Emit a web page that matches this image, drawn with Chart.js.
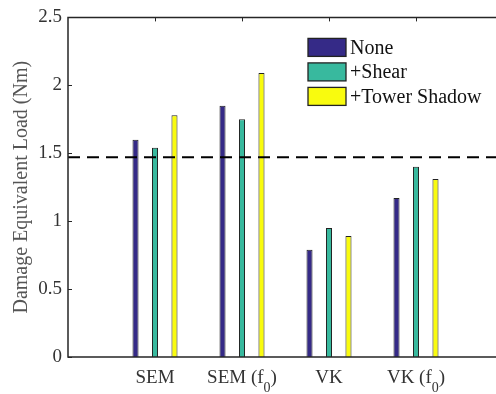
<!DOCTYPE html>
<html>
<head>
<meta charset="utf-8">
<title>Damage Equivalent Load</title>
<style>
  body { margin: 0; background: #fff; overflow: hidden; }
  #wrap { width: 496px; height: 394px; overflow: hidden; }
</style>
</head>
<body>
<div id="wrap"><canvas id="del" width="504" height="394"></canvas></div>
<script src="https://cdn.jsdelivr.net/npm/chart.js@4/dist/chart.umd.min.js"></script>
<script>
// "_" marks a subscript digit in a category name
var categories = ['SEM', 'SEM (f_0)', 'VK', 'VK (f_0)'];
var loadNone  = [1.60, 1.85, 0.79, 1.17];
var loadShear = [1.54, 1.75, 0.95, 1.40];
var loadTower = [1.78, 2.09, 0.89, 1.31];
var seriesNames  = ['None', '+Shear', '+Tower Shadow'];
var seriesColors = ['#352a87', '#38b99e', '#f9fb0e'];
var yTicks = [0, 0.5, 1, 1.5, 2, 2.5];
var baseLoad = 1.47;

var FONT = 'Liberation Serif, Times New Roman, serif';
var AXIS = '#262626';
var TEXT = '#333';

// empty slots at both ends so the groups sit at 1..4 on a 0..5 axis
function pad(a) { return [null].concat(a, [null]); }
var labels = pad(categories).map(function (c) { return c || ''; });

function barSet(i, values) {
  return {
    type: 'bar',
    label: seriesNames[i],
    data: pad(values),
    backgroundColor: seriesColors[i],
    borderColor: '#222',
    borderWidth: 1,
    categoryPercentage: 0.672,
    barPercentage: 0.31,
    order: 1
  };
}

// axes box with inward ticks
var framePlugin = {
  id: 'frame',
  afterDraw: function (chart) {
    var a = chart.chartArea, ctx = chart.ctx;
    var xs = chart.scales.x, ys = chart.scales.y;
    ctx.save();
    ctx.strokeStyle = AXIS;
    ctx.lineWidth = 1.5;
    ctx.beginPath();
    ctx.moveTo(a.right, a.top);
    ctx.lineTo(a.left, a.top);
    ctx.lineTo(a.left, a.bottom);
    ctx.lineTo(a.right, a.bottom);
    ctx.stroke();
    ctx.lineWidth = 1;
    ctx.beginPath();
    yTicks.forEach(function (v) {
      var p = Math.round(ys.getPixelForValue(v)) + 0.5;
      ctx.moveTo(a.left, p);
      ctx.lineTo(a.left + 4, p);
    });
    for (var i = 1; i <= categories.length; i++) {
      var px = Math.round(xs.getPixelForValue(i)) + 0.5;
      ctx.moveTo(px, a.top);
      ctx.lineTo(px, a.top + 4);
    }
    ctx.stroke();
    ctx.restore();
  }
};

// category names, with a lowered small digit after "_"
var xLabelPlugin = {
  id: 'xlabels',
  afterDraw: function (chart) {
    var ctx = chart.ctx, xs = chart.scales.x;
    var base = chart.chartArea.bottom + 26;
    var big = '19px ' + FONT, small = '14px ' + FONT;
    ctx.save();
    ctx.fillStyle = TEXT;
    ctx.textAlign = 'left';
    ctx.textBaseline = 'alphabetic';
    chart.data.labels.forEach(function (lab, i) {
      if (!lab) return;
      var px = xs.getPixelForValue(i);
      var parts = lab.split('_');
      var head = parts[0];
      var sub = parts.length > 1 ? parts[1].charAt(0) : '';
      var tail = parts.length > 1 ? parts[1].slice(1) : '';
      ctx.font = big;
      var w1 = ctx.measureText(head).width, w3 = ctx.measureText(tail).width;
      ctx.font = small;
      var w2 = ctx.measureText(sub).width;
      var x0 = px - (w1 + w2 + w3) / 2;
      ctx.font = big;
      ctx.fillText(head, x0, base);
      if (sub) {
        ctx.font = small;
        ctx.fillText(sub, x0 + w1, base + 9);
        ctx.font = big;
        ctx.fillText(tail, x0 + w1 + w2, base);
      }
    });
    ctx.restore();
  }
};

var legendPlugin = {
  id: 'boxLegend',
  afterDraw: function (chart) {
    var ctx = chart.ctx, a = chart.chartArea;
    var x = a.left + 240, y = a.top + 21;
    ctx.save();
    ctx.font = '20px ' + FONT;
    ctx.textBaseline = 'middle';
    ctx.textAlign = 'left';
    seriesNames.forEach(function (name, i) {
      var top = y + i * 24.5;
      ctx.fillStyle = seriesColors[i];
      ctx.fillRect(x, top, 38, 18);
      ctx.strokeStyle = '#222';
      ctx.lineWidth = 1.3;
      ctx.strokeRect(x, top, 38, 18);
      ctx.fillStyle = '#111';
      ctx.fillText(name, x + 42, top + 10);
    });
    ctx.restore();
  }
};

new Chart(document.getElementById('del').getContext('2d'), {
  data: {
    labels: labels,
    datasets: [
      barSet(0, loadNone),
      barSet(1, loadShear),
      barSet(2, loadTower),
      {
        type: 'line',
        label: 'baseline',
        data: labels.map(function () { return baseLoad; }),
        borderColor: '#000',
        borderWidth: 2,
        borderDash: [12, 7],
        pointRadius: 0,
        order: 0
      }
    ]
  },
  options: {
    responsive: false,
    animation: false,
    devicePixelRatio: 1,
    layout: { padding: { top: 13, right: 1, left: 0, bottom: 0 } },
    plugins: { legend: { display: false }, tooltip: { enabled: false } },
    scales: {
      x: {
        type: 'category',
        offset: false,
        grid: { display: false, drawTicks: false },
        border: { display: false },
        ticks: { display: false },
        afterFit: function (s) { s.height = 37; }
      },
      y: {
        min: 0,
        max: 2.5,
        grid: { display: false, drawTicks: false },
        border: { display: false },
        afterBuildTicks: function (s) {
          s.ticks = yTicks.map(function (v) { return { value: v }; });
        },
        ticks: {
          padding: 6,
          color: TEXT,
          font: { family: FONT, size: 19 },
          callback: function (v) { return String(v); }
        },
        title: {
          display: true,
          text: 'Damage Equivalent Load (Nm)',
          color: '#555',
          font: { family: FONT, size: 20 },
          padding: { top: 10, bottom: 0 }
        },
        afterFit: function (s) { s.width = 68; }
      }
    }
  },
  plugins: [framePlugin, xLabelPlugin, legendPlugin]
});
</script>
</body>
</html>
